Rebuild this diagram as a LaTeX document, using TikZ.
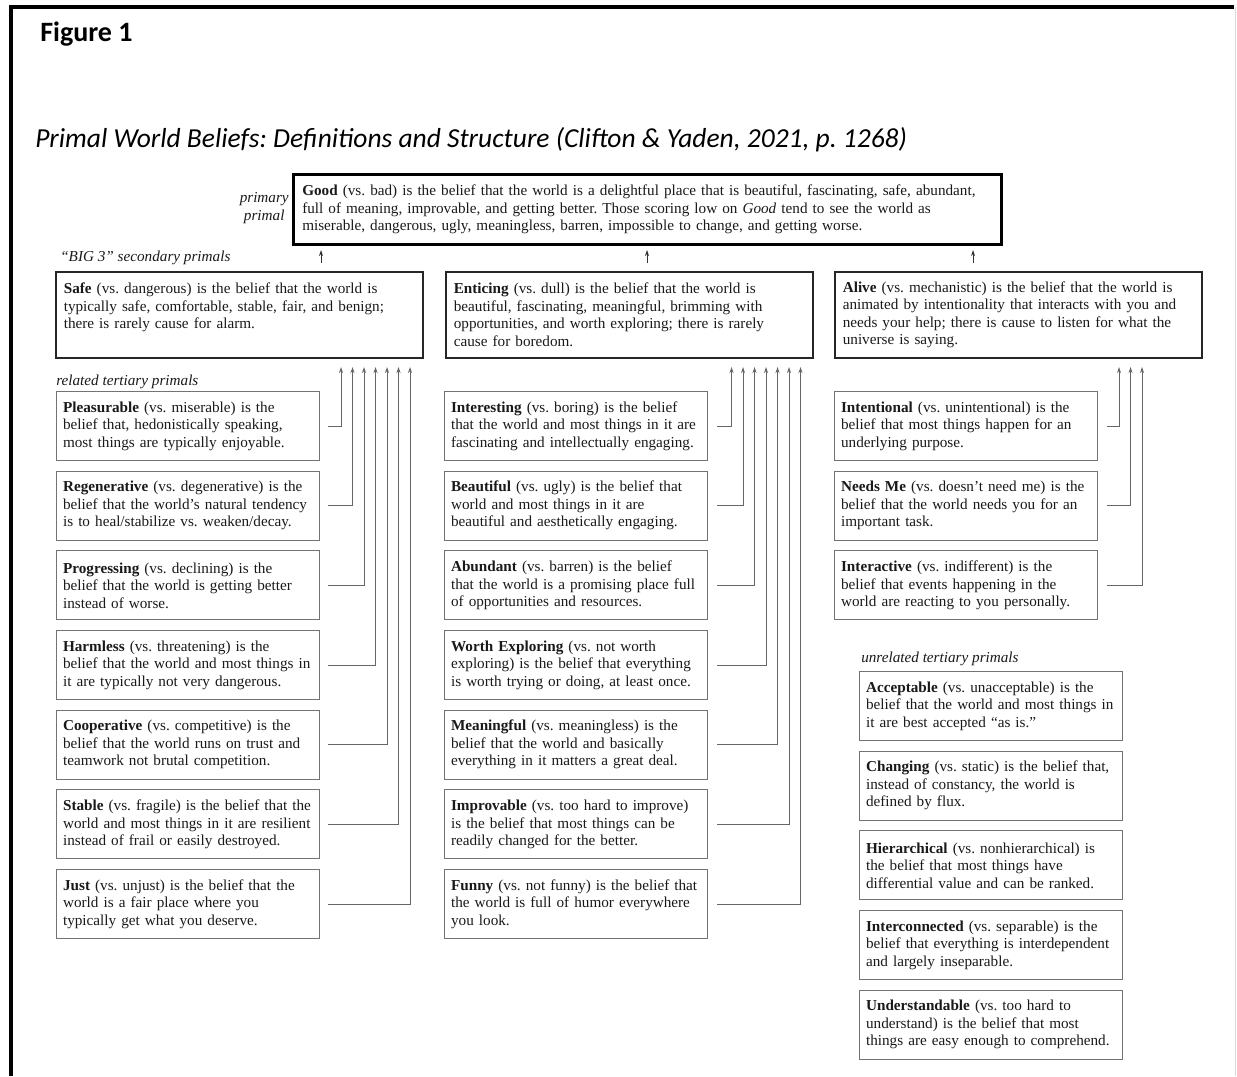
\documentclass[tikz,border=0pt]{standalone}
\usepackage{fontspec}
\setmainfont{Liberation Serif}
\newfontfamily\headfont{Carlito}
\frenchspacing
\usetikzlibrary{arrows.meta,positioning,calc}
\tikzset{
  base/.style={font=\fontsize{11.4}{13.1}\selectfont, text=black!90},
  tert/.style={base, draw=black!55, line width=0.8pt, anchor=north west, align=left,
    text width=187.5pt, inner xsep=4.9pt, minimum height=51.75pt},
  sec/.style={base, draw=black!85, line width=1.2pt, anchor=north west, align=left,
    text width=263.25pt, inner xsep=6pt, minimum height=64.5pt},
  prim/.style={base, draw=black, line width=2.4pt, anchor=north west, align=left,
    text width=518pt, inner xsep=6.5pt, minimum height=52.5pt},
  lab/.style={base, font=\fontsize{11.4}{13.1}\selectfont\itshape, anchor=west, inner sep=0pt},
  conn/.style={draw=black!60, line width=0.7pt, -{Stealth[length=4.5pt,width=3pt]}},
  up/.style={draw=black!80, line width=0.7pt, -{Stealth[length=4.5pt,width=3pt]}}
}
\begin{document}
\begin{tikzpicture}[x=0.75pt,y=-0.75pt]
\useasboundingbox (0,0) rectangle (1237,1076);
% frame
\draw[black, line width=3pt] (11,1076) -- (11,7) -- (1234,7);
\draw[black!15, line width=0.8pt] (1235.5,7) -- (1235.5,1076);
% heading
\node[anchor=base west, inner sep=0pt, font=\headfont\bfseries\fontsize{21}{25}\selectfont] (fig) at (40,41) {Figure 1};
\node[anchor=base west, inner sep=0pt, font=\headfont\itshape\fontsize{20.6}{24}\selectfont] (sub) at (35,147) {Primal World Beliefs: Definitions and Structure (Clifton \& Yaden, 2021, p. 1268)};

% primary
\node[prim] (good) at (292,173) {\textbf{Good} (vs. bad) is the belief that the world is a delightful place that is beautiful, fascinating, safe, abundant,\\
full of meaning, improvable, and getting better. Those scoring low on \textit{Good} tend to see the world as\\
miserable, dangerous, ugly, meaningless, barren, impossible to change, and getting worse.};
\node[base, anchor=east, align=center, inner sep=0pt, font=\fontsize{11.4}{13.1}\selectfont\itshape] (primlab) at (289,208) {primary\\primal};

% secondary
\node[lab] (big3) at (60,258) {“BIG 3” secondary primals};
\node[sec] (safe) at (55,271) {\textbf{Safe} (vs. dangerous) is the belief that the world is\\
typically safe, comfortable, stable, fair, and benign;\\
there is rarely cause for alarm.\\ \mbox{}};
\node[sec] (entice) at (445,271) {\textbf{Enticing} (vs. dull) is the belief that the world is\\
beautiful, fascinating, meaningful, brimming with\\
opportunities, and worth exploring; there is rarely\\
cause for boredom.};
\node[sec] (alive) at (834,271) {\textbf{Alive} (vs. mechanistic) is the belief that the world is\\
animated by intentionality that interacts with you and\\
needs your help; there is cause to listen for what the\\
universe is saying.};

% arrows to Good
\coordinate (g1) at (321,250);
\coordinate (g2) at (647,250);
\coordinate (g3) at (973,250);
\draw[up] ([yshift=6pt]safe.north -| g1) -- (g1);
\draw[up] ([yshift=6pt]entice.north -| g2) -- (g2);
\draw[up] ([yshift=6pt]alive.north -| g3) -- (g3);

% tertiary labels
\node[lab] (rel) at (56,382) {related tertiary primals};
\node[lab] (unrel) at (861,659) {unrelated tertiary primals};

% left column
\node[tert] (l1) at (56,391) {\textbf{Pleasurable} (vs. miserable) is the\\ belief that, hedonistically speaking,\\ most things are typically enjoyable.};
\node[tert] (l2) at (56,470.7) {\textbf{Regenerative} (vs. degenerative) is the\\ belief that the world’s natural tendency\\ is to heal/stabilize vs. weaken/decay.};
\node[tert] (l3) at (56,550.4) {\textbf{Progressing} (vs. declining) is the\\ belief that the world is getting better\\ instead of worse.};
\node[tert] (l4) at (56,630) {\textbf{Harmless} (vs. threatening) is the\\ belief that the world and most things in\\ it are typically not very dangerous.};
\node[tert] (l5) at (56,709.7) {\textbf{Cooperative} (vs. competitive) is the\\ belief that the world runs on trust and\\ teamwork not brutal competition.};
\node[tert] (l6) at (56,789.4) {\textbf{Stable} (vs. fragile) is the belief that the\\ world and most things in it are resilient\\ instead of frail or easily destroyed.};
\node[tert] (l7) at (56,869) {\textbf{Just} (vs. unjust) is the belief that the\\ world is a fair place where you\\ typically get what you deserve.};

% middle column
\node[tert] (m1) at (444,391) {\textbf{Interesting} (vs. boring) is the belief\\ that the world and most things in it are\\ fascinating and intellectually engaging.};
\node[tert] (m2) at (444,470.7) {\textbf{Beautiful} (vs. ugly) is the belief that\\ world and most things in it are\\ beautiful and aesthetically engaging.};
\node[tert] (m3) at (444,550.4) {\textbf{Abundant} (vs. barren) is the belief\\ that the world is a promising place full\\ of opportunities and resources.};
\node[tert] (m4) at (444,630) {\textbf{Worth Exploring} (vs. not worth\\ exploring) is the belief that everything\\ is worth trying or doing, at least once.};
\node[tert] (m5) at (444,709.7) {\textbf{Meaningful} (vs. meaningless) is the\\ belief that the world and basically\\ everything in it matters a great deal.};
\node[tert] (m6) at (444,789.4) {\textbf{Improvable} (vs. too hard to improve)\\ is the belief that most things can be\\ readily changed for the better.};
\node[tert] (m7) at (444,869) {\textbf{Funny} (vs. not funny) is the belief that\\ the world is full of humor everywhere\\ you look.};

% right column
\node[tert] (r1) at (834,391) {\textbf{Intentional} (vs. unintentional) is the\\ belief that most things happen for an\\ underlying purpose.};
\node[tert] (r2) at (834,470.7) {\textbf{Needs Me} (vs. doesn’t need me) is the\\ belief that the world needs you for an\\ important task.};
\node[tert] (r3) at (834,550.4) {\textbf{Interactive} (vs. indifferent) is the\\ belief that events happening in the\\ world are reacting to you personally.};

% unrelated
\node[tert] (u1) at (859,671) {\textbf{Acceptable} (vs. unacceptable) is the\\ belief that the world and most things in\\ it are best accepted “as is.”};
\node[tert] (u2) at (859,750.7) {\textbf{Changing} (vs. static) is the belief that,\\ instead of constancy, the world is\\ defined by flux.};
\node[tert] (u3) at (859,830.4) {\textbf{Hierarchical} (vs. nonhierarchical) is\\ the belief that most things have\\ differential value and can be ranked.};
\node[tert] (u4) at (859,910) {\textbf{Interconnected} (vs. separable) is the\\ belief that everything is interdependent\\ and largely inseparable.};
\node[tert] (u5) at (859,989.7) {\textbf{Understandable} (vs. too hard to\\ understand) is the belief that most\\ things are easy enough to comprehend.};

% connector tips
\foreach \i/\x in {1/341,2/352.5,3/364,4/375.5,5/387,6/398.5,7/410}{
  \coordinate (s\i) at (\x,367);
  \draw[conn] ([xshift=6pt]l\i.east) -| (s\i);
}
\foreach \i/\x in {1/731.5,2/743,3/754.5,4/766,5/777.5,6/789,7/800.5}{
  \coordinate (e\i) at (\x,367);
  \draw[conn] ([xshift=7pt]m\i.east) -| (e\i);
}
\foreach \i/\x in {1/1119,2/1130.5,3/1142}{
  \coordinate (a\i) at (\x,367);
  \draw[conn] ([xshift=6.5pt]r\i.east) -| (a\i);
}
\end{tikzpicture}
\end{document}
